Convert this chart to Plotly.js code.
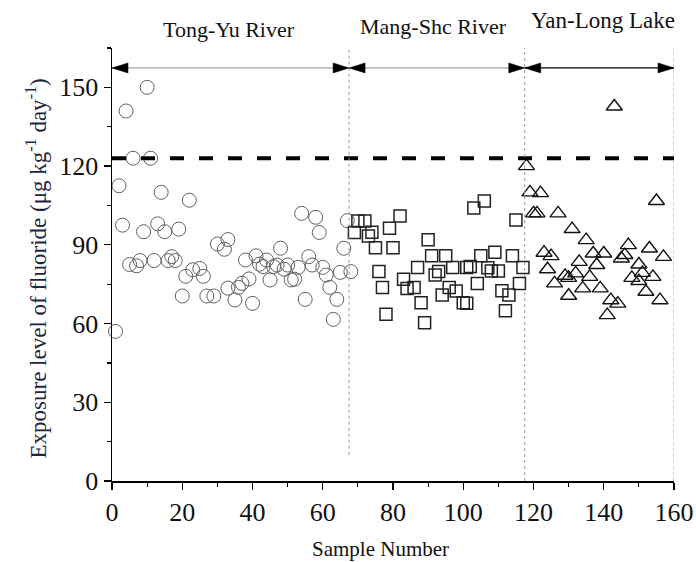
<!DOCTYPE html>
<html>
<head>
<meta charset="utf-8">
<script src="https://cdn.plot.ly/plotly-3.0.1.min.js"></script>
<style>html,body{margin:0;padding:0;background:#fff;}#chart{width:696px;height:562px;}</style>
</head>
<body>
<div id="chart"></div>
<script>
// Tong-Yu River (circles)
const tongYuX = [1,2,3,4,5,6,7,8,9,10,11,12,13,14,15,16,17,18,19,20,21,22,23,25,26,27,29,30,32,33,33,35,36,37,38,39,40,41,42,43,44,45,46,47,48,49,50,51,52,53,54,55,56,57,58,59,60,61,62,63,64,65,66,67,68];
const tongYuY = [57,112.5,97.5,141,82.5,123,82,84,95,150,123,84,98,110,95,84,85.5,84,96,70.5,78,107,80.5,81,78,70.5,70.5,90.3,88.3,92,73.5,69,73.8,75.3,84.2,77,67.7,85.8,82.6,81.7,84.2,76.6,81.7,82.3,88.7,80.7,82.3,76.6,76.9,81.4,102,69.2,85.5,82.3,100.5,94.7,81.4,78.5,73.8,61.6,69.2,79.5,88.7,99.2,79.8];
// Mang-She River (squares)
const mangSheX = [69,70,72,73,74,75,76,77,78,79,80,82,83,84,86,87,88,89,90,91,92,93,94,95,96,97,98,100,101,101,102,103,104,105,106,107,108,109,110,111,112,113,114,115,116,117];
const mangSheY = [94.7,99.1,99.1,93.4,94.8,88.9,79.8,73.7,63.5,96.3,88.9,101,76.9,73.4,73.7,81.4,67.9,60.3,91.9,85.8,78.5,79.8,70.9,85.8,73.7,81.4,72.4,67.9,67.7,81.4,81.7,104,75.3,85.8,106.7,81.3,80,87.2,80,72.5,64.9,70.9,85.8,99.5,75.3,81.4];
// Yan-Long Lake (triangles)
const yanLongX = [118,119,120,121,122,123,124,125,126,127,129,130,130,131,132,133,134,135,136,137,138,139,140,141,142,143,144,145,146,147,148,150,150,151,152,153,154,155,156,157];
const yanLongY = [120,110,102,102,109.7,87,80.7,85.7,75.3,102,78.2,70.6,77.4,96,79.1,83.5,73.4,91.8,77.8,86.7,82.3,73.4,86.7,63.2,68.9,142.7,67.6,84.8,86.1,89.9,77.4,76.2,82.5,79.3,72.1,88.6,77.8,106.7,68.9,85.4];
// Guideline value and section boundaries
const limitX = [0, 160];
const limitY = [123, 123];
const sectionBounds = [0, 67.5, 117.5, 160];
const sectionNames = ['Tong-Yu River', 'Mang-Shc River', 'Yan-Long Lake'];
const sectionLabelX = [33.3, 91.5, 139.8];
const xTicks = [0,20,40,60,80,100,120,140,160];
const yTicks = [0,30,60,90,120,150];

const arrowY = 157.4;
const serif = '"Liberation Serif", "Times New Roman", Times, serif';

const traces = [
  {x: tongYuX, y: tongYuY, type: 'scatter', mode: 'markers', cliponaxis: false,
   marker: {symbol: 'circle-open', size: 14, color: '#606060', line: {width: 1, color: '#606060'}}},
  {x: mangSheX, y: mangSheY, type: 'scatter', mode: 'markers', cliponaxis: false,
   marker: {symbol: 'square-open', size: 12, color: '#222', line: {width: 1.5, color: '#222'}}},
  {x: yanLongX, y: yanLongY, type: 'scatter', mode: 'markers', cliponaxis: false,
   marker: {symbol: 'triangle-up-open', size: 14, color: '#111', line: {width: 1.4, color: '#111'}}},
  {x: limitX, y: limitY, type: 'scatter', mode: 'lines',
   line: {color: '#000', width: 4, dash: '14px,15px'}}
];

const shapes = [];
sectionBounds.slice(1).forEach((b, i) => {
  shapes.push({type: 'line', xref: 'x', yref: 'y', x0: b, x1: b, y0: i === 0 ? 10 : 0, y1: 165,
    line: {color: '#999', width: 1, dash: 'dot'}});
});
for (let i = 0; i < 3; i++) {
  const a = sectionBounds[i], b = sectionBounds[i + 1];
  const col = i === 2 ? '#000' : '#8c8c8c';
  shapes.push({type: 'line', xref: 'x', yref: 'y', x0: a, x1: b, y0: arrowY, y1: arrowY,
    line: {color: col, width: i === 2 ? 1.3 : 1}});
  shapes.push({type: 'path', xref: 'x', yref: 'y', xsizemode: 'pixel', ysizemode: 'pixel',
    xanchor: a, yanchor: arrowY, path: 'M0,0 L16,5 L16,-5 Z',
    fillcolor: '#000', line: {color: '#000', width: 0.5}});
  shapes.push({type: 'path', xref: 'x', yref: 'y', xsizemode: 'pixel', ysizemode: 'pixel',
    xanchor: b, yanchor: arrowY, path: 'M0,0 L-16,5 L-16,-5 Z',
    fillcolor: '#000', line: {color: '#000', width: 0.5}});
}

const annotations = sectionNames.map((n, i) => ({
  text: n, xref: 'x', yref: 'paper', x: sectionLabelX[i], y: [1.042, 1.05, 1.063][i],
  xanchor: 'center', yanchor: 'middle', showarrow: false,
  font: {family: serif, size: [22, 22, 23][i], color: '#111'}
}));
annotations.push({
  text: 'Exposure level of fluoride (μg kg<sup>-1</sup> day<sup>-1</sup>)',
  xref: 'paper', yref: 'paper', x: -0.134, y: 0.49, textangle: -90,
  xanchor: 'center', yanchor: 'middle', showarrow: false,
  font: {family: serif, size: 23, color: '#1c2640'}
});
annotations.push({
  text: 'Sample Number', xref: 'paper', yref: 'paper', x: 0.477, y: -0.157,
  xanchor: 'center', yanchor: 'middle', showarrow: false,
  font: {family: serif, size: 21, color: '#111'}
});

const tickFont = {family: serif, size: 26, color: '#111'};
const layout = {
  width: 696, height: 562,
  margin: {l: 112, r: 22, t: 48, b: 81},
  paper_bgcolor: '#fff', plot_bgcolor: '#fff',
  showlegend: false,
  font: {family: serif, size: 23, color: '#111'},
  xaxis: {range: [0, 160], tickmode: 'array', tickvals: xTicks, ticktext: xTicks.map(String),
    ticks: 'outside', ticklen: 7, tickwidth: 1.3,
    tickcolor: '#000', showline: true, linecolor: '#000', linewidth: 1.5, showgrid: false,
    zeroline: false, minor: {dtick: 10, tick0: 0, ticks: 'outside', ticklen: 4, tickcolor: '#000', tickwidth: 1.2, showgrid: false},
    tickfont: tickFont, automargin: false},
  yaxis: {range: [0, 165], tickmode: 'array', tickvals: yTicks, ticktext: yTicks.map(String),
    ticks: 'outside', ticklen: 7, tickwidth: 1.3,
    tickcolor: '#000', showline: true, linecolor: '#000', linewidth: 1.5, showgrid: false,
    zeroline: false, minor: {dtick: 15, tick0: 0, ticks: 'outside', ticklen: 4, tickcolor: '#000', tickwidth: 1.2, showgrid: false},
    tickfont: tickFont, automargin: false},
  shapes: shapes,
  annotations: annotations
};

Plotly.newPlot('chart', traces, layout, {staticPlot: true, displayModeBar: false});
</script>
</body>
</html>
